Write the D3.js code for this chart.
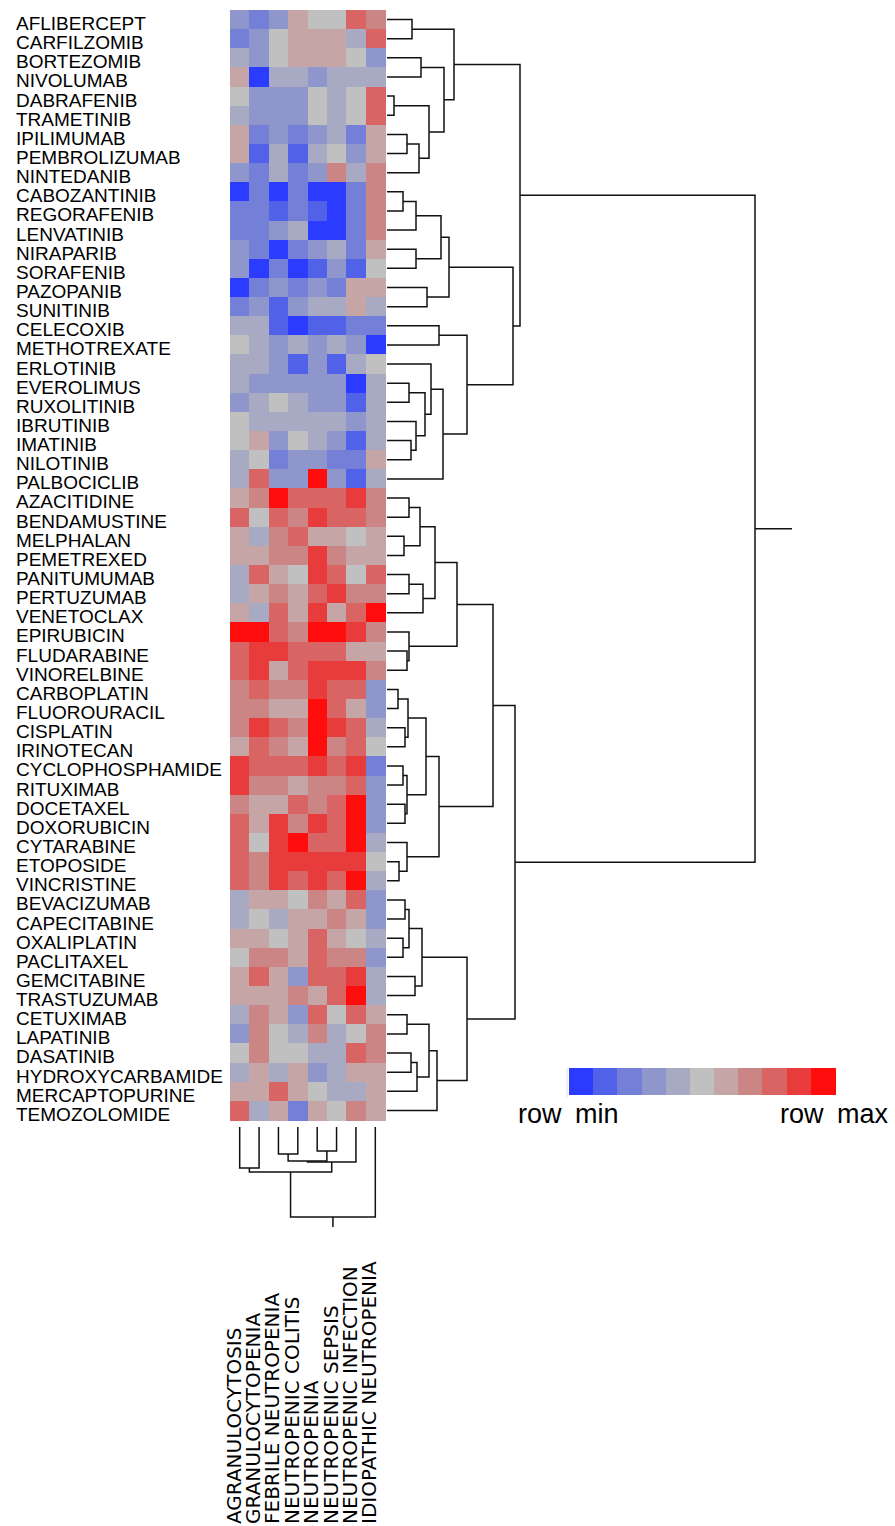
<!DOCTYPE html>
<html>
<head>
  <meta charset="utf-8">
  <title>Neutropenia adverse events heatmap</title>
  <script src="https://cdnjs.cloudflare.com/ajax/libs/d3/7.8.5/d3.min.js"></script>
  <style>
    body {
      margin: 0;
      background: #fff;
    }
    .row-label {
      font-family: "Liberation Sans", Arial, sans-serif;
      font-size: 19px;
      fill: #000;
    }
    .col-label {
      font-family: "DejaVu Sans", sans-serif;
      font-size: 20px;
      fill: #000;
    }
    .legend-label {
      font-family: "Liberation Sans", Arial, sans-serif;
      font-size: 27px;
      word-spacing: 6px;
      fill: #000;
    }
    .dendro {
      fill: none;
      stroke: #111;
      stroke-width: 1.5px;
    }
  </style>
</head>
<body>
  <div id="chart"></div>

  <script>
    // Drugs (rows), in dendrogram order
    const drugs = [
      "AFLIBERCEPT", "CARFILZOMIB", "BORTEZOMIB", "NIVOLUMAB", "DABRAFENIB",
      "TRAMETINIB", "IPILIMUMAB", "PEMBROLIZUMAB", "NINTEDANIB", "CABOZANTINIB",
      "REGORAFENIB", "LENVATINIB", "NIRAPARIB", "SORAFENIB", "PAZOPANIB",
      "SUNITINIB", "CELECOXIB", "METHOTREXATE", "ERLOTINIB", "EVEROLIMUS",
      "RUXOLITINIB", "IBRUTINIB", "IMATINIB", "NILOTINIB", "PALBOCICLIB",
      "AZACITIDINE", "BENDAMUSTINE", "MELPHALAN", "PEMETREXED", "PANITUMUMAB",
      "PERTUZUMAB", "VENETOCLAX", "EPIRUBICIN", "FLUDARABINE", "VINORELBINE",
      "CARBOPLATIN", "FLUOROURACIL", "CISPLATIN", "IRINOTECAN", "CYCLOPHOSPHAMIDE",
      "RITUXIMAB", "DOCETAXEL", "DOXORUBICIN", "CYTARABINE", "ETOPOSIDE",
      "VINCRISTINE", "BEVACIZUMAB", "CAPECITABINE", "OXALIPLATIN", "PACLITAXEL",
      "GEMCITABINE", "TRASTUZUMAB", "CETUXIMAB", "LAPATINIB", "DASATINIB",
      "HYDROXYCARBAMIDE", "MERCAPTOPURINE", "TEMOZOLOMIDE"
    ];

    // Adverse events (columns), in dendrogram order
    const events = [
      "AGRANULOCYTOSIS", "GRANULOCYTOPENIA", "FEBRILE NEUTROPENIA", "NEUTROPENIC COLITIS",
      "NEUTROPENIA", "NEUTROPENIC SEPSIS", "NEUTROPENIC INFECTION", "IDIOPATHIC NEUTROPENIA"
    ];

    // Row-scaled level per cell: -5 = row min ... 5 = row max
    const scores = [
      [-2, -3, -2,  1,  0,  0,  3,  2],
      [-3, -2,  0,  1,  1,  1, -1,  3],
      [-1, -2,  0,  1,  1,  1,  0, -2],
      [ 1, -5, -1, -1, -2, -1, -1, -1],
      [ 0, -2, -2, -2,  0, -1,  0,  3],
      [-1, -2, -2, -2,  0, -1,  0,  3],
      [ 1, -3, -2, -3, -2, -1, -3,  1],
      [ 1, -4, -1, -4, -1,  0, -2,  1],
      [-2, -3, -1, -3, -2,  2, -1,  2],
      [-5, -3, -5, -3, -5, -5, -3,  2],
      [-3, -3, -4, -3, -4, -5, -3,  2],
      [-3, -3, -2, -1, -5, -5, -3,  2],
      [-2, -3, -5, -3, -2, -1, -3,  1],
      [-2, -5, -3, -5, -4, -2, -4,  0],
      [-5, -3, -2, -3, -2, -3,  1,  1],
      [-3, -2, -4, -2, -1, -1,  1, -1],
      [-1, -1, -4, -5, -4, -4, -3, -3],
      [ 0, -1, -2, -1, -2, -1, -2, -5],
      [-1, -1, -2, -4, -2, -4, -1,  0],
      [-1, -2, -2, -2, -2, -2, -5, -1],
      [-2, -1,  0, -1, -2, -2, -4, -1],
      [ 0, -1, -1, -1, -1, -1, -2, -1],
      [ 0,  1, -2,  0, -1, -2, -4, -1],
      [-1,  0, -3, -2, -2, -3, -3,  1],
      [-1,  3, -2, -2,  5, -2, -4, -1],
      [ 1,  2,  5,  3,  3,  3,  4,  2],
      [ 3,  0,  3,  2,  4,  3,  3,  2],
      [ 1, -1,  2,  3,  1,  1,  0,  1],
      [ 1,  1,  2,  2,  4,  2,  1,  1],
      [-1,  3,  1,  0,  4,  3,  0,  3],
      [-1,  1,  2,  1,  3,  4,  2,  2],
      [ 1, -1,  3,  1,  4,  1,  3,  5],
      [ 5,  5,  3,  2,  5,  5,  4,  2],
      [ 3,  4,  4,  3,  3,  3,  1,  1],
      [ 3,  4,  1,  3,  4,  4,  4,  2],
      [ 2,  3,  2,  2,  4,  3,  3, -2],
      [ 2,  2,  1,  1,  5,  3,  1, -2],
      [ 2,  4,  3,  2,  5,  4,  3, -1],
      [ 1,  3,  2,  1,  5,  2,  3,  0],
      [ 4,  3,  3,  3,  4,  3,  4, -3],
      [ 4,  2,  2,  1,  2,  2,  3, -2],
      [ 2,  1,  1,  3,  2,  3,  5, -2],
      [ 3,  1,  4,  2,  4,  3,  5, -2],
      [ 3,  0,  4,  5,  3,  3,  5, -1],
      [ 3,  2,  4,  4,  4,  4,  4,  0],
      [ 3,  2,  4,  3,  4,  3,  5, -1],
      [-1,  1,  1,  0,  2,  1,  3, -2],
      [-1,  0, -1,  1,  1,  2,  1, -2],
      [ 1,  1,  0,  1,  3,  1,  0, -1],
      [ 0,  2,  2,  1,  3,  2,  2, -2],
      [ 1,  3,  1, -2,  3,  3,  4, -1],
      [ 1,  1,  1,  2,  1,  3,  5, -1],
      [-1,  2,  1, -2,  3,  0,  3,  1],
      [-2,  2,  0, -1,  2, -1,  0,  2],
      [ 0,  2,  0,  0, -1, -1,  3,  2],
      [-1,  1, -1,  1, -2, -1,  1,  1],
      [ 1,  1,  3,  1,  0, -1, -1,  1],
      [ 3, -1,  1, -3,  1,  0,  2,  1]
    ];

    // Colour key, row min -> row max
    const palette = [
      "#2b3bff", "#5262e8", "#7480d8", "#8f96cb", "#a8aac4", "#c0c0c0",
      "#c5a5a5", "#cc8585", "#d86464", "#e83c3c", "#ff0d0d"
    ];
    const keyLabels = ["row min", "row max"];

    // Row dendrogram: [left, right, height], leaves are row indices
    const rowTree = [
      [
        [[0, 1, 25], [[2, 3, 34], [[4, 5, 7], [[6, 7, 20], 8, 32], 42], 57], 67],
        [
          [[[[9, 10, 16], 11, 29], [12, 13, 29], 54], [14, 15, 40], 62],
          [[16, 17, 52], [[18, [[19, 20, 22], [21, [22, 23, 24], 29], 38], 44], 24, 56], 80],
          126
        ],
        133
      ],
      [
        [
          [[[[25, 26, 22], [27, 28, 17], 33], [[29, 30, 22], 31, 36], 48], [32, [33, 34, 20], 22], 70],
          [[[[35, 36, 11], [37, 38, 18], 21], [[39, 40, 16], [41, 42, 18], 20], 39], [43, [44, 45, 12], 20], 52],
          106
        ],
        [
          [[[46, 47, 18], [48, 49, 16], 22], [50, 51, 28], 35],
          [[[52, 53, 20], [[54, 55, 24], 56, 30], 42], 57, 50],
          80
        ],
        128
      ],
      368
    ];

    // Column dendrogram
    const colTree = [[[0, 1, 41], [[[2, 3, 27], [4, 5, 24], 34], 6, 35], 45], 7, 90];

    // Layout
    const width = 895;
    const height = 1526;
    const heat = { left: 230, right: 385, top: 10, bottom: 1120 };

    const svg = d3.select("#chart")
      .append("svg")
      .attr("width", width)
      .attr("height", height);

    const x = d3.scaleBand()
      .domain(d3.range(events.length))
      .range([heat.left, heat.right]);

    const y = d3.scaleBand()
      .domain(d3.range(drugs.length))
      .range([heat.top, heat.bottom]);

    const color = d3.scaleQuantize()
      .domain([-5.5, 5.5])
      .range(palette);

    // Heatmap cells
    const cells = [];
    scores.forEach((row, i) => row.forEach((v, j) => cells.push({ i, j, v })));

    svg.append("g")
      .selectAll("rect")
      .data(cells)
      .enter().append("rect")
      .attr("x", d => x(d.j))
      .attr("y", d => y(d.i))
      .attr("width", x.bandwidth() + 0.5)
      .attr("height", y.bandwidth() + 0.5)
      .attr("fill", d => color(d.v))
      .attr("shape-rendering", "crispEdges");

    // Row labels
    svg.append("g")
      .selectAll("text")
      .data(drugs)
      .enter().append("text")
      .attr("class", "row-label")
      .attr("x", 16)
      .attr("y", (d, i) => y(i) + y.bandwidth() / 2)
      .attr("dy", "0.55em")
      .text(d => d);

    // Column labels, rotated, reading upward from the bottom
    svg.append("g")
      .selectAll("text")
      .data(events)
      .enter().append("text")
      .attr("class", "col-label")
      .attr("transform", (d, j) => `translate(${x(j) + x.bandwidth() / 2 + 1},1524) rotate(-90)`)
      .text(d => d);

    // Dendrograms
    const hx = d3.scaleLinear().domain([0, 368]).range([387, 755]);
    const hy = d3.scaleLinear().domain([0, 90]).range([1127, 1217]);

    const rowG = svg.append("g");
    const colG = svg.append("g");

    function drawRow(node) {
      if (typeof node === "number") return { p: y(node) + y.bandwidth() / 2, h: 0 };
      const a = drawRow(node[0]);
      const b = drawRow(node[1]);
      const xn = hx(node[2]);
      rowG.append("path")
        .attr("class", "dendro")
        .attr("d", `M${hx(a.h)},${a.p}H${xn}V${b.p}H${hx(b.h)}`);
      return { p: (a.p + b.p) / 2, h: node[2] };
    }

    function drawCol(node) {
      if (typeof node === "number") return { p: x(node) + x.bandwidth() / 2, h: 0 };
      const a = drawCol(node[0]);
      const b = drawCol(node[1]);
      const yn = hy(node[2]);
      colG.append("path")
        .attr("class", "dendro")
        .attr("d", `M${a.p},${hy(a.h)}V${yn}H${b.p}V${hy(b.h)}`);
      return { p: (a.p + b.p) / 2, h: node[2] };
    }

    const rowRoot = drawRow(rowTree);
    rowG.append("path")
      .attr("class", "dendro")
      .attr("d", `M${hx(rowRoot.h)},${rowRoot.p}H${hx(rowRoot.h) + 37}`);

    const colRoot = drawCol(colTree);
    colG.append("path")
      .attr("class", "dendro")
      .attr("d", `M${colRoot.p},${hy(colRoot.h)}V${hy(colRoot.h) + 10}`);

    // Colour key
    const key = d3.scaleBand()
      .domain(d3.range(palette.length))
      .range([569, 835]);

    const keyG = svg.append("g");
    keyG.selectAll("rect")
      .data(palette)
      .enter().append("rect")
      .attr("x", (d, i) => key(i))
      .attr("y", 1068)
      .attr("width", key.bandwidth() + 0.5)
      .attr("height", 27)
      .attr("fill", d => d)
      .attr("shape-rendering", "crispEdges");

    keyG.append("line")
      .attr("x1", 567).attr("x2", 567)
      .attr("y1", 1068).attr("y2", 1097)
      .attr("stroke", "#ddd");

    keyG.append("text")
      .attr("class", "legend-label")
      .attr("x", 518)
      .attr("y", 1123)
      .text(keyLabels[0]);

    keyG.append("text")
      .attr("class", "legend-label")
      .attr("x", 888)
      .attr("y", 1123)
      .attr("text-anchor", "end")
      .text(keyLabels[1]);
  </script>
</body>
</html>
